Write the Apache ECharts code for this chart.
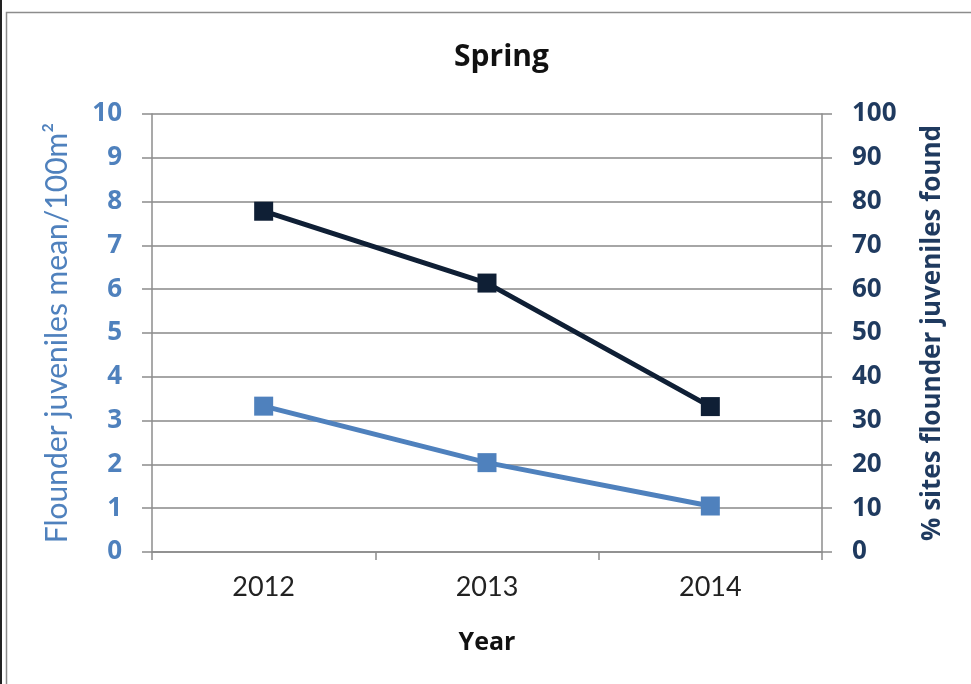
<!DOCTYPE html>
<html>
<head>
<meta charset="utf-8">
<script src="https://cdn.jsdelivr.net/npm/echarts@6/dist/echarts.min.js"></script>
<style>
    html, body { margin: 0; padding: 0; background: #fff; }
    #chart { width: 971px; height: 684px; }
</style>
</head>
<body>
<div id="chart"></div>
<script>
// data
var years = ['2012', '2013', '2014'];
var meanPer100m2 = [3.33, 2.04, 1.05];
var pctSitesFound = [77.8, 61.4, 33.2];

var lightBlue = '#4f81bd';
var darkNavy = '#0f1f35';
var font = 'Lato';
var boldFont = 'Open Sans';

var chartDom = document.getElementById('chart');
var myChart = echarts.init(chartDom);
var option;

option = {
    backgroundColor: '#fff',
    animation: false,
    textStyle: { fontFamily: font },
    graphic: [
        {
            type: 'rect',
            shape: { x: 6.5, y: 12.5, width: 980, height: 700 },
            style: { fill: 'none', stroke: '#8c8c8c', lineWidth: 1.5 }
        },
        {
            type: 'rect',
            shape: { x: 0, y: 0, width: 2, height: 684 },
            style: { fill: '#222' }
        }
    ],
    title: {
        text: 'Spring',
        left: 449,
        top: 37,
        textStyle: { fontFamily: boldFont, fontSize: 30, fontWeight: 'bold', color: '#111' }
    },
    grid: { left: 152, right: 149, top: 114, bottom: 132 },
    xAxis: {
        type: 'category',
        data: years,
        name: 'Year',
        nameLocation: 'middle',
        nameGap: 78,
        nameTextStyle: { fontFamily: boldFont, fontSize: 25, fontWeight: 'bold', color: '#111' },
        axisLine: { lineStyle: { color: '#8c8c8c', width: 1.5 } },
        axisTick: { show: true, length: 8, lineStyle: { color: '#8c8c8c', width: 1.5 } },
        axisLabel: { fontFamily: font, fontSize: 27, color: '#222', margin: 22 }
    },
    yAxis: [
        {
            type: 'value',
            min: 0,
            max: 10,
            interval: 1,
            position: 'left',
            name: 'Flounder juveniles mean/100m²',
            nameLocation: 'middle',
            nameGap: 80,
            nameRotate: 90,
            nameTextStyle: { fontFamily: font, fontSize: 30, color: lightBlue },
            axisLine: { show: true, lineStyle: { color: '#8c8c8c', width: 1.5 } },
            axisTick: { show: true, length: 10, lineStyle: { color: '#8c8c8c', width: 1.5 } },
            axisLabel: { fontFamily: boldFont, fontSize: 26, fontWeight: 'bold', color: lightBlue, margin: 30 },
            splitLine: { show: true, lineStyle: { color: '#a6a6a6', width: 2 } }
        },
        {
            type: 'value',
            min: 0,
            max: 100,
            interval: 10,
            position: 'right',
            name: '% sites flounder juveniles found',
            nameLocation: 'middle',
            nameGap: 98,
            nameRotate: 90,
            nameTextStyle: { fontFamily: boldFont, fontSize: 26, fontWeight: 'bold', color: '#1f3a5f' },
            axisLine: { show: true, lineStyle: { color: '#8c8c8c', width: 1.5 } },
            axisTick: { show: true, length: 10, lineStyle: { color: '#8c8c8c', width: 1.5 } },
            axisLabel: { fontFamily: boldFont, fontSize: 26, fontWeight: 'bold', color: '#1f3a5f', margin: 30 },
            splitLine: { show: false }
        }
    ],
    series: [
        {
            name: 'Mean per 100m²',
            type: 'line',
            yAxisIndex: 0,
            data: meanPer100m2,
            symbol: 'rect',
            symbolSize: 19,
            itemStyle: { color: lightBlue },
            lineStyle: { color: lightBlue, width: 5 }
        },
        {
            name: '% sites found',
            type: 'line',
            yAxisIndex: 1,
            data: pctSitesFound,
            symbol: 'rect',
            symbolSize: 19,
            itemStyle: { color: darkNavy },
            lineStyle: { color: darkNavy, width: 5 }
        }
    ]
};

option && myChart.setOption(option);
</script>
</body>
</html>
